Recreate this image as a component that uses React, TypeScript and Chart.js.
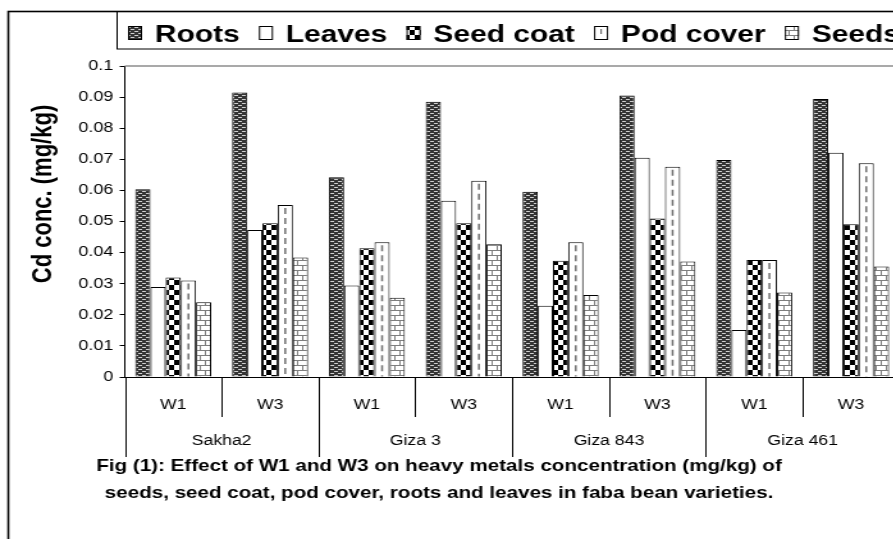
import React, { useEffect, useRef } from "react";
import { Chart, registerables } from "chart.js";

Chart.register(...registerables);

// ---------- data ----------
const treatments = ["W1", "W3", "W1", "W3", "W1", "W3", "W1", "W3"];
const varieties = ["Sakha2", "Giza 3", "Giza 843", "Giza 461"];
const seriesNames = ["Roots", "Leaves", "Seed coat", "Pod cover", "Seeds"];
const roots = [0.0604, 0.0915, 0.0642, 0.0885, 0.0596, 0.0905, 0.0698, 0.0894];
const leaves = [0.0289, 0.0473, 0.0294, 0.0567, 0.0229, 0.0705, 0.0151, 0.0721];
const seedCoat = [0.032, 0.0494, 0.0414, 0.0494, 0.0374, 0.051, 0.0376, 0.0491];
const podCover = [0.031, 0.0553, 0.0433, 0.0631, 0.0433, 0.0676, 0.0376, 0.0687];
const seeds = [0.024, 0.0384, 0.0255, 0.0427, 0.0264, 0.0371, 0.0272, 0.0355];
const yTickLabels = ["0", "0.01", "0.02", "0.03", "0.04", "0.05", "0.06", "0.07", "0.08", "0.09", "0.1"];
const yTitle = "Cd conc. (mg/kg)";
const captionLines = [
  "Fig (1): Effect of W1 and W3 on heavy metals concentration (mg/kg) of",
  "seeds, seed coat, pod cover, roots and leaves in faba bean varieties.",
];

// ---------- layout ----------
const K = 1.28; // horizontal stretch of the whole figure
const CW = 720;
const CH = 539;
const FONT = "'Liberation Sans', Arial, sans-serif";

function tile(w: number, h: number, draw: (g: CanvasRenderingContext2D) => void) {
  const c = document.createElement("canvas");
  c.width = w;
  c.height = h;
  const g = c.getContext("2d")!;
  draw(g);
  return c;
}

export default function App() {
  const ref = useRef<HTMLCanvasElement | null>(null);

  useEffect(() => {
    const canvas = ref.current!;
    const ctx0 = canvas.getContext("2d")!;

    const rootsTile = tile(6, 4, (g) => {
      g.fillStyle = "#343434";
      g.fillRect(0, 0, 6, 4);
      g.fillStyle = "#cfcfcf";
      g.fillRect(0, 1, 3, 1);
      g.fillRect(3, 3, 3, 1);
    });
    const checkTile = tile(8, 10, (g) => {
      g.fillStyle = "#fff";
      g.fillRect(0, 0, 8, 10);
      g.fillStyle = "#000";
      g.fillRect(0, 0, 4, 5);
      g.fillRect(4, 5, 4, 5);
    });
    const brickTile = tile(8, 10, (g) => {
      g.fillStyle = "#fff";
      g.fillRect(0, 0, 8, 10);
      g.strokeStyle = "#7e7e7e";
      g.lineWidth = 1;
      g.beginPath();
      g.moveTo(0, 0.5); g.lineTo(8, 0.5);
      g.moveTo(0, 5.5); g.lineTo(8, 5.5);
      g.moveTo(0.5, 0); g.lineTo(0.5, 5.5);
      g.moveTo(4.5, 5.5); g.lineTo(4.5, 10);
      g.stroke();
    });
    const pRoots = ctx0.createPattern(rootsTile, "repeat")!;
    const pCheck = ctx0.createPattern(checkTile, "repeat")!;
    const pBrick = ctx0.createPattern(brickTile, "repeat")!;
    const fills: (string | CanvasPattern)[] = [pRoots, "#ffffff", pCheck, "#ffffff", pBrick];
    const values = [roots, leaves, seedCoat, podCover, seeds];

    const deco = {
      id: "deco",
      beforeDatasetsDraw(chart: any) {
        const { ctx, chartArea: a } = chart;
        ctx.save();
        ctx.strokeStyle = "#8c8c8c";
        ctx.lineWidth = 1.5;
        ctx.beginPath();
        ctx.moveTo(a.left, a.top);
        ctx.lineTo(a.right + 40, a.top);
        ctx.stroke();
        ctx.restore();
      },
      afterDatasetsDraw(chart: any) {
        const { ctx } = chart;
        const meta = chart.getDatasetMeta(3);
        ctx.save();
        ctx.strokeStyle = "#707070";
        ctx.lineWidth = 1.5;
        ctx.setLineDash([6, 4]);
        meta.data.forEach((bar: any) => {
          const { x, y, base } = bar.getProps(["x", "y", "base"], true);
          ctx.beginPath();
          ctx.moveTo(x, y + 3);
          ctx.lineTo(x, base);
          ctx.stroke();
        });
        ctx.restore();
      },
      afterDraw(chart: any) {
        const { ctx, chartArea: a } = chart;
        const xs = chart.scales.x;
        ctx.save();
        // outer frame
        ctx.strokeStyle = "#000";
        ctx.lineWidth = 1.6;
        ctx.strokeRect(6.5, 11.5, CW + 50, CH + 50);
        // legend box
        ctx.lineWidth = 1;
        ctx.strokeRect(91.5, 11.5, CW + 50, 37.5);
        // legend items
        ctx.font = `bold 23.4px ${FONT}`;
        ctx.textBaseline = "alphabetic";
        ctx.textAlign = "left";
        let lx = 100;
        seriesNames.forEach((name, i) => {
          ctx.fillStyle = fills[i] as any;
          ctx.fillRect(lx, 26, 11, 14);
          ctx.strokeStyle = "#000";
          ctx.lineWidth = 1;
          ctx.strokeRect(lx + 0.5, 26.5, 10, 13);
          if (i === 3) {
            ctx.strokeStyle = "#707070";
            ctx.lineWidth = 1.2;
            ctx.beginPath();
            ctx.moveTo(lx + 5.5, 29);
            ctx.lineTo(lx + 5.5, 34);
            ctx.stroke();
          }
          ctx.fillStyle = "#000";
          const tx = lx + 21;
          ctx.fillText(name, tx, 42);
          lx = tx + ctx.measureText(name).width + 15;
        });
        // y title
        ctx.save();
        ctx.translate(33.6, 194);
        ctx.rotate(-Math.PI / 2);
        ctx.font = `bold 22px ${FONT}`;
        ctx.textAlign = "center";
        ctx.textBaseline = "middle";
        ctx.fillStyle = "#000";
        ctx.fillText(yTitle, 0, 0);
        ctx.restore();
        // x axis two-level labels
        const px = (i: number) => xs.getPixelForValue(i);
        const bound = (i: number) =>
          i === 0 ? a.left : i === treatments.length ? a.right : (px(i - 1) + px(i)) / 2;
        ctx.strokeStyle = "#000";
        ctx.lineWidth = 1;
        for (let i = 0; i <= treatments.length; i++) {
          const bx = Math.round(bound(i)) + 0.5;
          ctx.beginPath();
          ctx.moveTo(bx, a.bottom);
          ctx.lineTo(bx, i % 2 === 0 ? 457 : 417);
          ctx.stroke();
        }
        ctx.fillStyle = "#000";
        ctx.font = `13.8px ${FONT}`;
        ctx.textAlign = "center";
        ctx.textBaseline = "middle";
        treatments.forEach((t, i) => ctx.fillText(t, px(i), 405));
        varieties.forEach((v, j) => ctx.fillText(v, (bound(2 * j) + bound(2 * j + 2)) / 2, 441));
        // caption
        ctx.font = `bold 16.1px ${FONT}`;
        captionLines.forEach((l, i) => ctx.fillText(l, 343, 467 + i * 27));
        ctx.restore();
      },
    };

    const chart = new Chart(canvas, {
      type: "bar",
      data: {
        labels: treatments.map((t, i) => `${varieties[Math.floor(i / 2)]} ${t}`),
        datasets: seriesNames.map((name, i) => ({
          label: name,
          data: values[i],
          backgroundColor: fills[i] as any,
          borderColor: "#000",
          borderWidth: 1,
          barPercentage: 1,
          categoryPercentage: 0.785,
        })),
      },
      options: {
        animation: false,
        responsive: false,
        maintainAspectRatio: false,
        layout: { padding: { top: 66, right: 17.3, bottom: 0, left: 0 } },
        plugins: { legend: { display: false }, tooltip: { enabled: false }, title: { display: false } },
        scales: {
          x: {
            grid: { display: false },
            ticks: { display: false },
            border: { display: true, color: "#000", width: 1 },
            afterFit: (s: any) => {
              s.height = 162;
            },
          },
          y: {
            min: 0,
            max: 0.1,
            ticks: {
              stepSize: 0.01,
              color: "#000",
              padding: 5,
              font: { size: 14, family: FONT },
              callback: (_v: any, i: number) => yTickLabels[i],
            },
            grid: { display: true, drawOnChartArea: false, drawTicks: true, tickLength: 4, color: "#000" },
            border: { display: true, color: "#000", width: 1 },
            afterFit: (s: any) => {
              s.width = 97.5;
            },
          },
        },
      },
      plugins: [deco],
    });
    return () => chart.destroy();
  }, []);

  return (
    <div
      style={{
        position: "fixed",
        left: 0,
        top: 0,
        width: 893,
        height: 539,
        overflow: "hidden",
        background: "#fff",
      }}
    >
      <div style={{ width: CW, height: CH, transform: `scaleX(${K})`, transformOrigin: "0 0" }}>
        <canvas ref={ref} width={CW} height={CH} style={{ display: "block" }} />
      </div>
    </div>
  );
}
